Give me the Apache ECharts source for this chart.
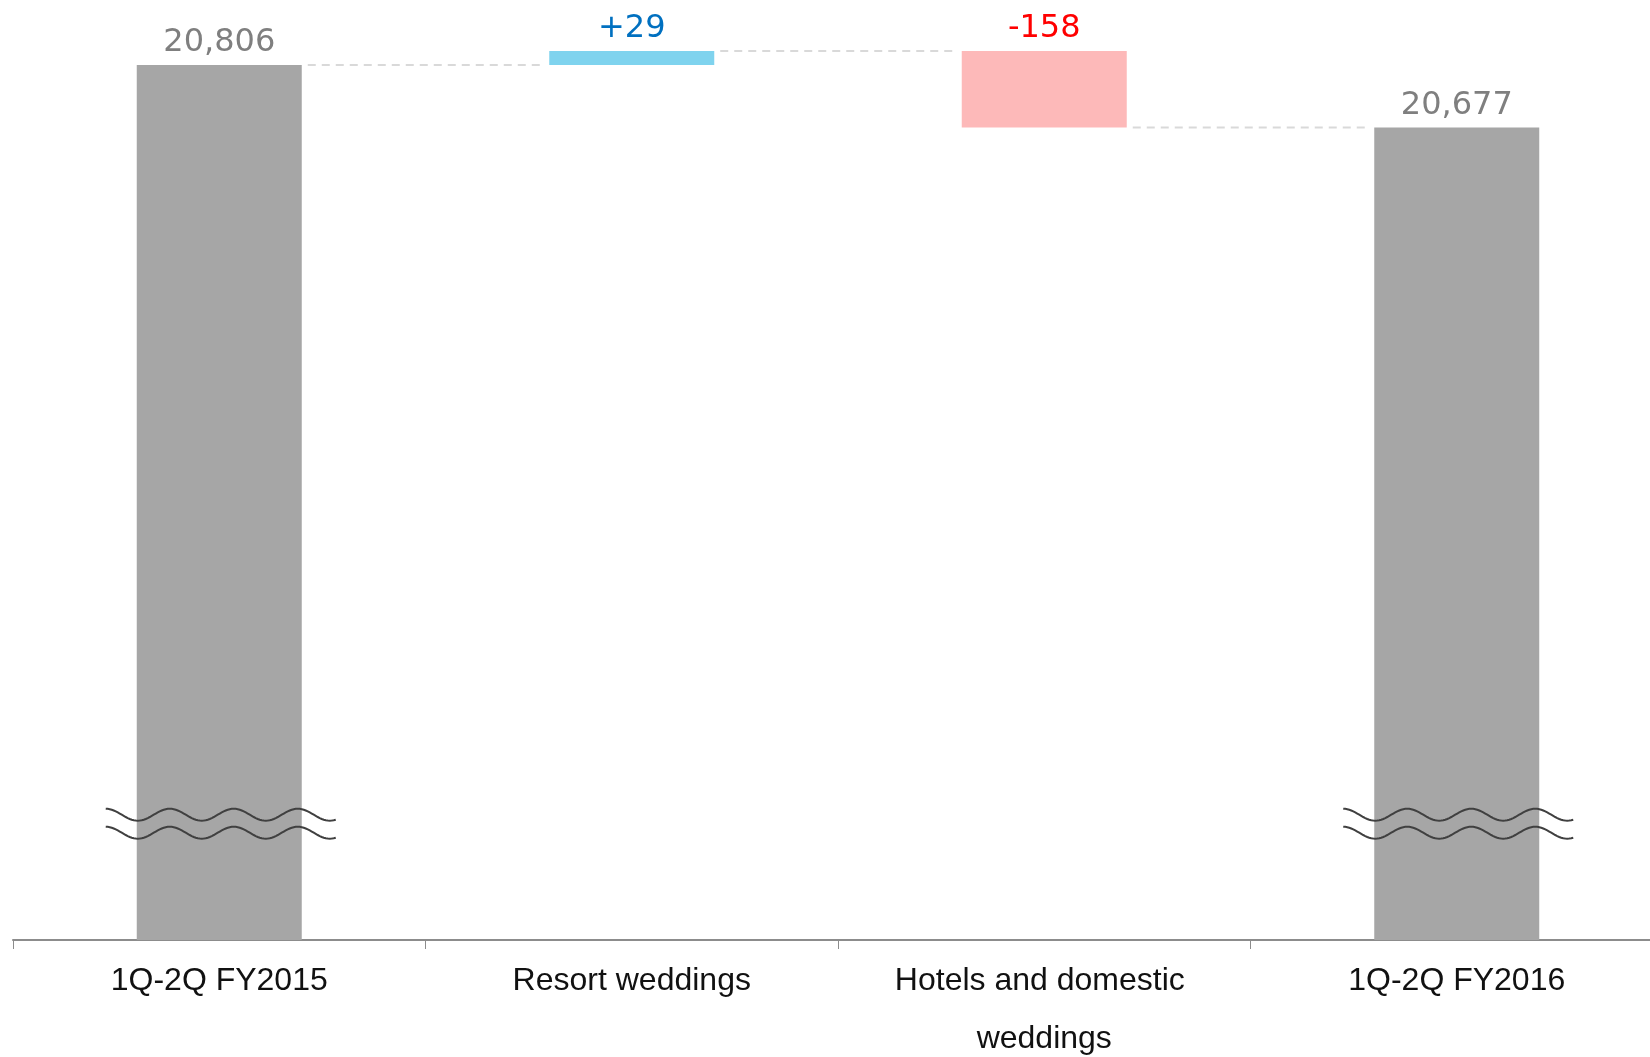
<!DOCTYPE html>
<html>
<head>
<meta charset="utf-8">
<script src="https://cdn.jsdelivr.net/npm/echarts@6/dist/echarts.min.js"></script>
<style>
  html, body { margin: 0; padding: 0; background: #fff; overflow: hidden; }
  #main { width: 1650px; height: 1057px; }
</style>
</head>
<body>
<div id="main"></div>
<script>
var categories = ['1Q-2Q FY2015', 'Resort weddings', 'Hotels and domestic weddings', '1Q-2Q FY2016'];
var totals = [20806, '-', '-', 20677];
var increases = ['-', 29, '-', '-'];
var decreases = ['-', '-', 158, '-'];
// where the wavy "axis break" marks sit on the value scale
var breakLevel = 19240;

// waterfall offsets worked out from the values above
var base = [];
var levels = [];
var level = 0;
for (var i = 0; i < categories.length; i++) {
    if (totals[i] !== '-') {
        base.push(0);
        level = totals[i];
    } else if (increases[i] !== '-') {
        base.push(level);
        level += increases[i];
    } else {
        level -= decreases[i];
        base.push(level);
    }
    levels.push(level);
}
var connectors = [];
for (var j = 0; j < levels.length - 1; j++) {
    connectors.push([j, levels[j]]);
}
var breaks = [];
totals.forEach(function (t, k) { if (t !== '-') breaks.push([k, breakLevel]); });

var barRatio = 0.4;
var myChart = echarts.init(document.getElementById('main'));

function fmt(v) {
    return v.toString().replace(/\B(?=(\d{3})+(?!\d))/g, ',');
}

var option = {
    animation: false,
    grid: { left: 13, right: -13, top: 0, bottom: 117, outerBoundsMode: 'none', containLabel: false },
    xAxis: {
        type: 'category',
        data: categories,
        axisLine: { show: true, lineStyle: { color: '#8c8c8c', width: 2 } },
        axisTick: { show: true, length: 9, lineStyle: { color: '#8c8c8c', width: 1 } },
        axisLabel: {
            interval: 0,
            margin: 12,
            color: '#111',
            fontFamily: 'Liberation Sans',
            fontSize: 32,
            lineHeight: 58,
            width: 330,
            overflow: 'break'
        }
    },
    yAxis: {
        type: 'value',
        min: 19000,
        max: 20940,
        show: false,
        splitLine: { show: false }
    },
    series: [
        {
            name: 'base',
            type: 'bar',
            stack: 'w',
            barWidth: '40%',
            itemStyle: { color: 'transparent' },
            silent: true,
            data: base
        },
        {
            name: 'total',
            type: 'bar',
            stack: 'w',
            itemStyle: { color: '#a6a6a6' },
            label: {
                show: true,
                position: 'top',
                distance: 6,
                color: '#7f7f7f',
                fontFamily: 'DejaVu Sans',
                fontSize: 32,
                formatter: function (p) { return fmt(p.value); }
            },
            data: totals
        },
        {
            name: 'increase',
            type: 'bar',
            stack: 'w',
            itemStyle: { color: '#7fd3ee' },
            label: {
                show: true,
                position: 'top',
                distance: 6,
                color: '#0070c0',
                fontFamily: 'DejaVu Sans',
                fontSize: 32,
                formatter: function (p) { return '+' + fmt(p.value); }
            },
            data: increases
        },
        {
            name: 'decrease',
            type: 'bar',
            stack: 'w',
            itemStyle: { color: '#fdb9b9' },
            label: {
                show: true,
                position: 'top',
                distance: 6,
                color: '#ff0000',
                fontFamily: 'DejaVu Sans',
                fontSize: 32,
                formatter: function (p) { return '-' + fmt(p.value); }
            },
            data: decreases
        },
        {
            name: 'connectors',
            type: 'custom',
            silent: true,
            z: 5,
            renderItem: function (params, api) {
                var p = api.coord([api.value(0), api.value(1)]);
                var bw = api.size([1, 0])[0];
                var gap = 6;
                return {
                    type: 'line',
                    shape: {
                        x1: p[0] + bw * barRatio / 2 + gap,
                        y1: p[1],
                        x2: p[0] + bw - bw * barRatio / 2 - gap,
                        y2: p[1]
                    },
                    style: { stroke: '#d9d9d9', lineWidth: 2, lineDash: [8, 6] }
                };
            },
            data: connectors
        },
        {
            name: 'breaks',
            type: 'custom',
            silent: true,
            z: 10,
            renderItem: function (params, api) {
                var p = api.coord([api.value(0), api.value(1)]);
                var bw = api.size([1, 0])[0];
                var w = bw * 0.56;
                var x0 = p[0] - w / 2 + 2;
                var period = 64, amp = 6;
                var children = [-9, 9].map(function (dy) {
                    var pts = [];
                    for (var t = 0; t <= w; t += 2) {
                        pts.push([x0 + t, p[1] + dy - amp * Math.cos(2 * Math.PI * t / period)]);
                    }
                    return {
                        type: 'polyline',
                        shape: { points: pts },
                        style: { stroke: '#404040', lineWidth: 2, fill: null }
                    };
                });
                return { type: 'group', children: children };
            },
            data: breaks
        }
    ]
};

myChart.setOption(option);
</script>
</body>
</html>
